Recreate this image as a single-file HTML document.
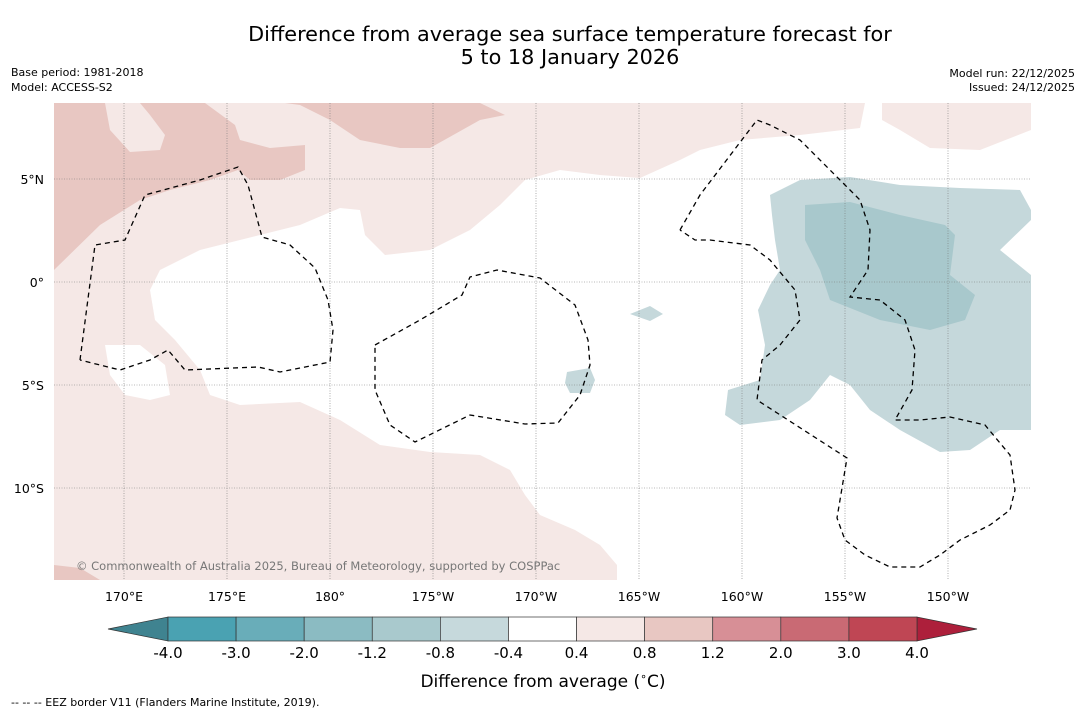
<!DOCTYPE html>
<html><head><meta charset="utf-8"><style>
body{margin:0;background:#fff;font-family:"Liberation Sans","DejaVu Sans",sans-serif;}
svg text{font-family:"DejaVu Sans","Liberation Sans",sans-serif;}
</style></head><body>
<svg id="s" width="1085" height="713" viewBox="0 0 1085 713" xmlns="http://www.w3.org/2000/svg">
<text x="570" y="41" font-size="20.8" text-anchor="middle">Difference from average sea surface temperature forecast for</text>
<text x="570" y="64" font-size="20.8" text-anchor="middle">5 to 18 January 2026</text>
<text x="11" y="76" font-size="11">Base period: 1981-2018</text>
<text x="11" y="91" font-size="11">Model: ACCESS-S2</text>
<text x="1075" y="77" font-size="11" text-anchor="end">Model run: 22/12/2025</text>
<text x="1075" y="91" font-size="11" text-anchor="end">Issued: 24/12/2025</text>
<g>
<clipPath id="c"><rect x="54" y="103" width="977" height="477"/></clipPath>
<g clip-path="url(#c)">
<rect x="54" y="103" width="977" height="477" fill="#fff"/>
<polygon fill="#f5e8e6" points="54,103 865,103 860,128 800,135 740,140 700,150 680,160 640,178 600,175 560,170 525,180 500,205 470,230 430,250 385,255 365,235 360,210 340,208 300,225 260,235 200,250 160,270 150,290 155,320 175,340 200,370 210,395 240,405 300,402 340,420 380,445 430,452 480,455 510,470 525,495 540,515 575,530 600,545 617,565 617,580 54,580"/>
<polygon fill="#f5e8e6" points="882,103 1031,103 1031,130 980,150 930,148 900,130 882,120"/>
<polygon fill="#fff" points="105,345 140,345 165,365 170,395 150,400 125,395 110,375"/>
<polygon fill="#e8c7c2" points="54,103 105,103 110,130 130,152 160,150 165,135 150,115 140,103 205,103 235,125 240,140 270,148 305,145 305,170 280,180 250,180 238,170 210,180 170,190 140,200 100,225 54,270"/>
<polygon fill="#e8c7c2" points="285,103 480,103 505,115 480,120 430,148 400,148 360,140 330,120 300,105"/>
<polygon fill="#e8c7c2" points="54,565 80,568 100,580 54,580"/>
<polygon fill="#c5d8db" points="770,195 800,180 850,177 900,185 960,188 1020,190 1031,210 1031,220 1000,250 1031,275 1031,430 1000,430 970,450 940,452 900,430 870,410 850,385 830,375 810,400 780,420 740,425 725,415 728,390 760,380 765,345 758,310 770,285 780,270 775,240 772,215"/>
<polygon fill="#a8c8cc" points="805,205 850,202 900,215 945,225 955,235 950,275 975,295 965,320 930,330 880,320 830,300 820,270 805,240"/>
<polygon fill="#c5d8db" points="630,314 650,306 663,314 650,321"/>
<polygon fill="#c5d8db" points="567,372 590,368 595,380 590,393 570,393 565,383"/>
<g id="grid" stroke="#777" stroke-width="0.6" stroke-dasharray="1,1.5"></g>
<g fill="none" stroke="#000" stroke-width="1.3" stroke-dasharray="5,4">
<polyline points="80,360 95,245 125,240 145,195 200,180 238,167 248,185 262,237 290,245 315,268 328,300 333,330 330,362 280,372 258,367 185,370 168,350 150,360 120,370 80,360"/>
<polyline points="375,345 420,320 462,295 470,277 497,270 540,278 575,305 588,340 590,365 580,395 558,423 525,424 470,415 415,442 390,425 375,390 375,345"/>
<polyline points="680,230 700,195 757,120 770,125 800,140 830,170 860,200 870,230 868,270 850,297 880,300 905,320 915,350 912,390 895,420 920,420 950,417 985,425 1010,455 1015,490 1010,510 990,525 960,540 940,555 920,567 890,567 865,555 845,540 837,518 847,458 757,400 762,360 780,345 800,320 795,290 770,260 750,245 710,240 695,240 680,230"/>
</g>
<text x="76" y="570" font-size="11.5" fill="#777">© Commonwealth of Australia 2025, Bureau of Meteorology, supported by COSPPac</text>
</g>
<g id="axl" font-size="12.5"></g>
</g>
<g id="cb"></g>
<text x="543" y="687" font-size="17" text-anchor="middle">Difference from average (<tspan font-size="11" dy="-7">∘</tspan><tspan dy="7">C)</tspan></text>
<text x="11" y="706" font-size="11">--  --  -- EEZ border V11 (Flanders Marine Institute, 2019).</text>
</svg>
<script>
const lonLabels=["170°E","175°E","180°","175°W","170°W","165°W","160°W","155°W","150°W"];
const latLabels=["5°N","0°","5°S","10°S"];
const cbTicks=["-4.0","-3.0","-2.0","-1.2","-0.8","-0.4","0.4","0.8","1.2","2.0","3.0","4.0"];
const cbColors=["#4aa2b2","#69adb9","#8bbbc2","#a9c9cd","#c6d9dc","#ffffff","#f5e8e6","#e8c7c2","#d78f96","#c96a74","#bf4654"];
const NS="http://www.w3.org/2000/svg";
function mk(t,a,p){const e=document.createElementNS(NS,t);for(const k in a)e.setAttribute(k,a[k]);p.appendChild(e);return e;}
const lonX=i=>124+i*103.0, latY=i=>179+i*103.0;
const g=document.getElementById('grid'), ax=document.getElementById('axl');
lonLabels.forEach((l,i)=>{const x=lonX(i);
 const ln=mk('line',{x1:x,x2:x,y1:103,y2:580},g);
 
 
 const t=mk('text',{x:x,y:601,'text-anchor':'middle'},ax);t.textContent=l;
 
 });
latLabels.forEach((l,i)=>{const y=latY(i);
 const ln=mk('line',{x1:54,x2:1031,y1:y,y2:y},g);
 
 
 const t=mk('text',{x:44,y:y+5,'text-anchor':'end'},ax);t.textContent=l;
 
 });
const cb=document.getElementById('cb');
const x0=168,x1=917,w=(x1-x0)/cbColors.length,y0=617,h=24;
const lt=mk('polygon',{points:`108,${y0+h/2} ${x0},${y0} ${x0},${y0+h}`,fill:'#3f8390',stroke:'#333','stroke-width':0.7},cb);


const rt=mk('polygon',{points:`977,${y0+h/2} ${x1},${y0} ${x1},${y0+h}`,fill:'#ad1f3b',stroke:'#333','stroke-width':0.7},cb);


cbColors.forEach((c,i)=>{const r=mk('rect',{x:x0+i*w,y:y0,width:w,height:h,fill:c,stroke:'#333','stroke-width':0.7},cb);
 
 });
cbTicks.forEach((l,i)=>{const t=mk('text',{x:x0+i*w,y:658,'text-anchor':'middle','font-size':15},cb);t.textContent=l;
 
 });
</script>
</body></html>
